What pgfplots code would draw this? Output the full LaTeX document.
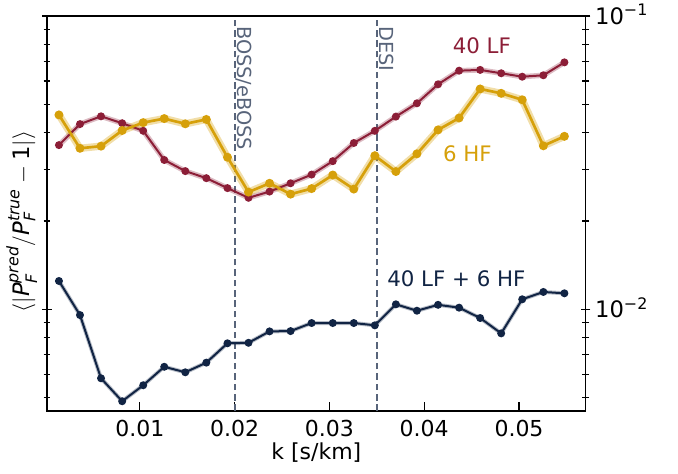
\documentclass[border=0pt]{standalone}
\usepackage{amsmath}
\usepackage{fontspec}
\setmainfont{DejaVu Sans}
\usepackage{pgfplots}
\usepackage{pgfplotstable}
\pgfplotsset{compat=1.18}
\definecolor{cRed}{RGB}{140,30,55}
\definecolor{cGold}{RGB}{214,160,10}
\definecolor{cNavy}{RGB}{17,36,68}
\definecolor{cDash}{RGB}{88,100,122}

\pgfplotstableread{
k lf hf comb
0.00146 0.0363 0.0460 0.01249
0.00368 0.0428 0.0354 0.00956
0.00590 0.0455 0.0360 0.00582
0.00813 0.0431 0.0407 0.00486
0.01035 0.0406 0.0433 0.00551
0.01257 0.0323 0.0447 0.00637
0.01479 0.0296 0.0429 0.00610
0.01701 0.0280 0.0444 0.00658
0.01924 0.0259 0.0330 0.00766
0.02146 0.0240 0.0251 0.00769
0.02368 0.0252 0.0269 0.00841
0.02590 0.0269 0.0247 0.00843
0.02812 0.0288 0.0258 0.00898
0.03035 0.0320 0.0287 0.00898
0.03257 0.0369 0.0257 0.00898
0.03479 0.0406 0.0334 0.00882
0.03701 0.0454 0.0295 0.01040
0.03923 0.0504 0.0339 0.00989
0.04146 0.0585 0.0409 0.01036
0.04368 0.0651 0.0449 0.01013
0.04590 0.0655 0.0564 0.00934
0.04812 0.0638 0.0545 0.00828
0.05034 0.0621 0.0518 0.01082
0.05257 0.0628 0.0361 0.01146
0.05479 0.0695 0.0389 0.01134
}\data

\begin{document}
\begin{tikzpicture}
\begin{axis}[
  scale only axis, width=404pt, height=296.25pt,
  ymode=log,
  xmin=0.0002, xmax=0.05704, ymin=0.0045, ymax=0.1,
  axis line style={line width=1pt},
  scaled x ticks=false,
  xtick={0.01,0.02,0.03,0.04,0.05},
  xticklabels={0.01,0.02,0.03,0.04,0.05},
  xtick pos=left,
  xtick align=inside,
  ytick={0.01,0.1},
  yticklabels={10\textsuperscript{−2},10\textsuperscript{−1}},
  minor ytick={0.005,0.006,0.007,0.008,0.009,0.02,0.03,0.04,0.05,0.06,0.07,0.08,0.09},
  yticklabel pos=right,
  ytick pos=both,
  ytick align=center,
  major tick length=7pt, minor tick length=5pt,
  tick style={line width=0.9pt, black},
  xticklabel style={font=\fontsize{16.5}{19}\selectfont, yshift=-3pt},
  yticklabel style={font=\fontsize{17}{20}\selectfont, anchor=base west, yshift=-6.2pt},
  xlabel={k [s/km]},
  ylabel={$\langle|\textit{P}^{\textit{pred}}_{\textit{F}}/\textit{P}^{\textit{true}}_{\textit{F}}-\text{1}|\rangle$},
  xlabel style={at={(axis description cs:0.5,0)}, anchor=north, yshift=-23.5pt, inner sep=0pt, font=\fontsize{16.5}{19}\selectfont},
  ylabel style={at={(axis description cs:-0.018,0.48)}, anchor=south, inner sep=0pt, font=\fontsize{17}{20}\selectfont},
  clip=false,
]
\coordinate (bl) at (rel axis cs:0,0);
\coordinate (tr) at (rel axis cs:1,1);
% vertical survey lines
\addplot[cDash, line width=1.3pt, dash pattern=on 5pt off 2.8pt] coordinates {(0.02,0.0045) (0.02,0.1)};
\addplot[cDash, line width=1.3pt, dash pattern=on 5pt off 2.8pt] coordinates {(0.035,0.0045) (0.035,0.1)};
% bands
\addplot[cRed, opacity=0.3, line width=4pt, line join=round] table[x=k,y=lf] {\data};
\addplot[cGold, opacity=0.35, line width=5.5pt, line join=round] table[x=k,y=hf] {\data};
\addplot[cNavy, opacity=0.3, line width=3pt, line join=round] table[x=k,y=comb] {\data};
% lines
\addplot[cRed, line width=1.5pt, mark=*, mark size=2.2pt] table[x=k,y=lf] {\data};
\addplot[cGold, line width=2pt, mark=*, mark size=2.3pt] table[x=k,y=hf] {\data};
\addplot[cNavy, line width=1.5pt, mark=*, mark size=2.2pt] table[x=k,y=comb] {\data};
% annotations
\node[rotate=-90, anchor=base west, inner sep=0pt, text=cDash, font=\fontsize{14.5}{17}\selectfont] at (axis cs:0.0203,0.0925) {BOSS/eBOSS};
\node[rotate=-90, anchor=base west, inner sep=0pt, text=cDash, font=\fontsize{14.5}{17}\selectfont] at (axis cs:0.0353,0.0925) {DESI};
\node[text=cRed, inner sep=0pt, font=\fontsize{16}{19}\selectfont] at (axis cs:0.04608,0.0795) {40 LF};
\node[text=cGold, inner sep=0pt, font=\fontsize{16}{19}\selectfont] at (axis cs:0.04455,0.03385) {6 HF};
\node[text=cNavy, inner sep=0pt, font=\fontsize{16}{19}\selectfont] at (axis cs:0.04339,0.01276) {40 LF + 6 HF};
\end{axis}
\pgfresetboundingbox
\path[use as bounding box] ([shift={(-35.25pt,-46.5pt)}]bl) rectangle ([shift={(69.2pt,12pt)}]tr);
\end{tikzpicture}
\end{document}
